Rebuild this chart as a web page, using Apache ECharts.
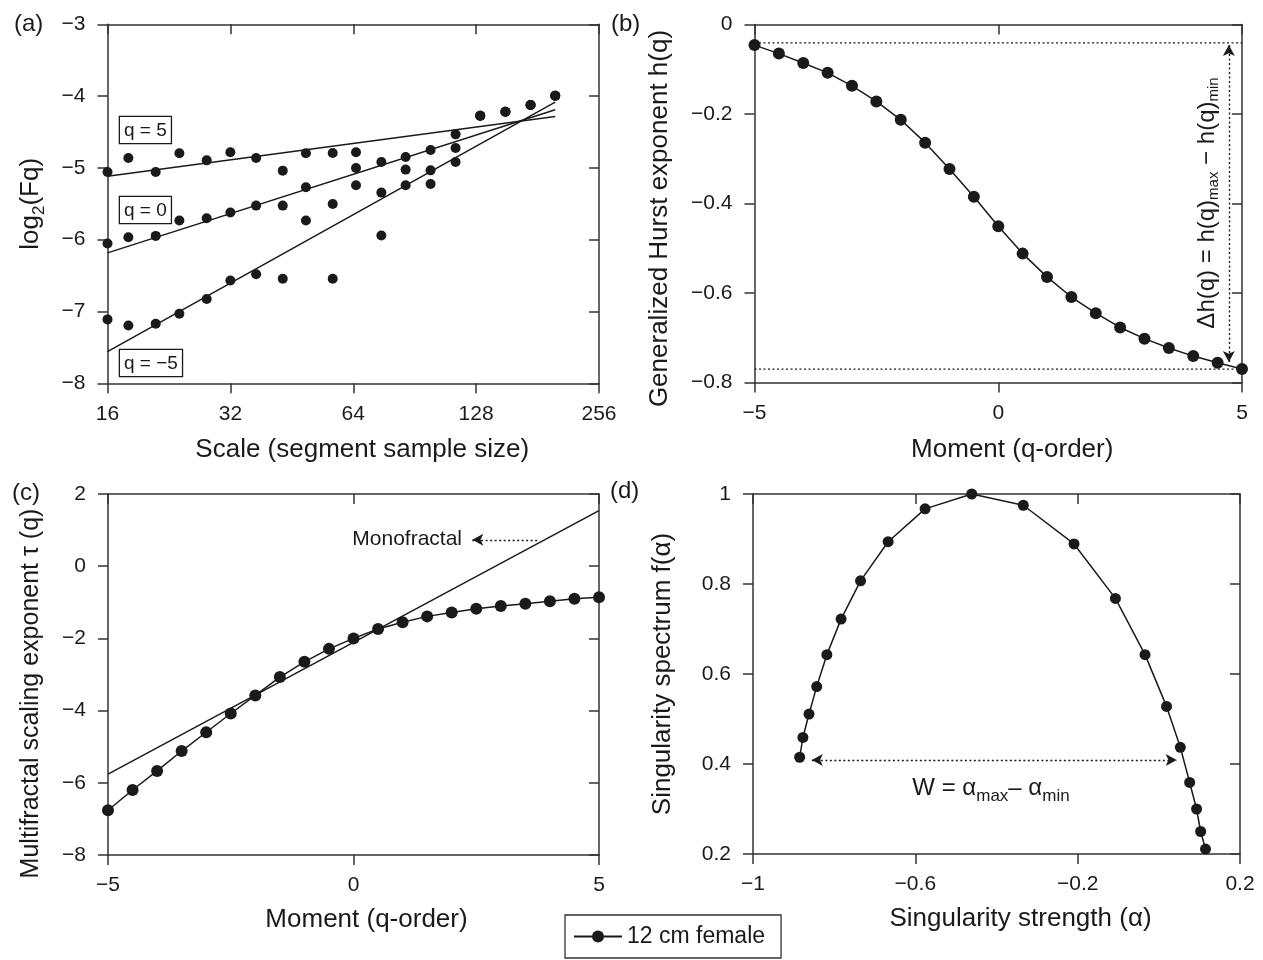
<!DOCTYPE html>
<html>
<head>
<meta charset="utf-8">
<script src="https://cdn.jsdelivr.net/npm/echarts@6/dist/echarts.min.js"></script>
<style>
  html, body { margin: 0; padding: 0; background: #ffffff; }
  #chart { width: 1263px; height: 960px; }
</style>
</head>
<body>
<div id="chart"></div>
<script>
// ---------- (a) log2 fluctuation function against segment scale ----------
const scaleSizes = [16, 18, 21, 24, 28, 32, 37, 43, 49, 57, 65, 75, 86, 99, 114, 131, 151, 174, 200];
const log2FqPos5 = [-5.057, -4.862, -5.057, -4.797, -4.895, -4.783, -4.862, -5.038, -4.797, -4.793,
                    -4.783, -4.918, -4.848, -4.751, -4.533, -4.273, -4.218, -4.125, -3.995];
const log2Fq0    = [-6.053, -5.965, -5.947, -5.733, -5.701, -5.622, -5.525, -5.525, -5.270, -5.502,
                    -5.001, -5.344, -5.024, -5.034, -4.723, -4.273, -4.218, -4.125, -3.995];
const log2FqNeg5 = [-7.110, -7.194, -7.170, -7.031, -6.827, -6.568, -6.480, -6.545, -5.733, -6.545,
                    -5.242, -5.942, -5.242, -5.224, -4.918, -4.273, -4.218, -4.125, -3.995];
const fitScaleEnds = [16, 200];
const fitPos5 = [-5.117, -4.283];
const fit0 = [-6.183, -4.190];
const fitNeg5 = [-7.560, -4.083];
const scaleTicks = [16, 32, 64, 128, 256];
const log2FqTicks = [-8, -7, -6, -5, -4, -3];

// ---------- (b) generalized Hurst exponent ----------
const qOrders = [-5, -4.5, -4, -3.5, -3, -2.5, -2, -1.5, -1, -0.5, 0, 0.5, 1, 1.5, 2, 2.5, 3, 3.5, 4, 4.5, 5];
const hurstH = [-0.046, -0.065, -0.086, -0.108, -0.137, -0.172, -0.213, -0.264, -0.323, -0.385, -0.451,
                -0.512, -0.564, -0.609, -0.645, -0.677, -0.702, -0.723, -0.741, -0.756, -0.770];
const hGuides = [-0.041, -0.770];
const hArrowQ = 4.73;
const hArrowSpan = [-0.046, -0.754];
const qTicks = [-5, 0, 5];
const hTicks = [-0.8, -0.6, -0.4, -0.2, 0];

// ---------- (c) multifractal scaling exponent ----------
const tauQ = [-6.76, -6.20, -5.67, -5.12, -4.60, -4.08, -3.58, -3.07, -2.65, -2.29, -2.00,
              -1.74, -1.55, -1.39, -1.28, -1.18, -1.10, -1.04, -0.97, -0.90, -0.86];
const monoQ = [-5, 5];
const monoTau = [-5.76, 1.54];
const monoArrowQ = [3.74, 2.42];
const monoArrowTau = 0.73;
const tauTicks = [-8, -6, -4, -2, 0, 2];

// ---------- (d) singularity spectrum ----------
const alphaVals = [-0.885, -0.877, -0.862, -0.843, -0.818, -0.783, -0.735, -0.667, -0.576, -0.461,
                   -0.334, -0.209, -0.107, -0.034, 0.019, 0.053, 0.076, 0.093, 0.103, 0.115];
const fAlpha = [0.415, 0.459, 0.511, 0.572, 0.643, 0.722, 0.807, 0.894, 0.967, 1.000,
                0.975, 0.889, 0.768, 0.643, 0.528, 0.437, 0.359, 0.300, 0.250, 0.211];
const wArrowAlpha = [-0.855, 0.044];
const wArrowF = 0.409;
const alphaTicks = [-1, -0.6, -0.2, 0.2];
const fTicks = [0.2, 0.4, 0.6, 0.8, 1];

const seriesName = '12 cm female';

// ---------- styling ----------
const FONT = '"Liberation Sans", Arial, Helvetica, sans-serif';
const INK = '#1a1a1a';
const FRAME = '#333333';
const DOTS = [2, 2.5];

function tickFmt(v) {
  return String(Math.round(v * 1000) / 1000).replace('-', '\u2212');
}
function zip(xs, ys) { return xs.map((x, i) => [x, ys[i]]); }

// Builds the labelled axis and its tick-only mirror on the opposite side of a grid.
function axisPair(dim, grid, scale, title) {
  const ticks = scale.ticks;
  const custom = scale.custom ? { customValues: ticks } : {};
  const base = {
    gridIndex: grid,
    type: scale.type || 'value',
    min: scale.type === 'log' ? ticks[0] : scale.min,
    max: scale.type === 'log' ? ticks[ticks.length - 1] : scale.max,
    splitLine: { show: false },
    axisLine: { show: true, onZero: false, lineStyle: { color: FRAME, width: 1.5 } }
  };
  if (scale.type === 'log') base.logBase = 2;
  else if (!scale.custom) base.interval = ticks[1] - ticks[0];
  const main = Object.assign({}, base, {
    position: dim === 'x' ? 'bottom' : 'left',
    axisTick: Object.assign({ show: true, inside: false, length: 10, lineStyle: { color: FRAME, width: 1.5 } }, custom),
    axisLabel: Object.assign({ show: true, margin: dim === 'x' ? 20 : 22, fontSize: 21, color: INK,
      fontFamily: FONT, formatter: tickFmt }, custom),
    name: title.text,
    nameLocation: 'middle',
    nameGap: title.gap,
    nameMoveOverlap: false,
    nameTextStyle: Object.assign({ fontSize: title.size || 26, color: INK, fontFamily: FONT, padding: title.pad || 0 },
      title.rich ? { rich: title.rich } : {})
  });
  const mirror = Object.assign({}, base, {
    position: dim === 'x' ? 'top' : 'right',
    axisTick: Object.assign({ show: true, inside: true, length: 10, lineStyle: { color: FRAME, width: 1.5 } }, custom),
    axisLabel: { show: false }
  });
  return [main, mirror];
}

const grids = [
  { left: 107.5, top: 24.3, width: 491.5, height: 359, outerBoundsMode: 'none' },
  { left: 754.5, top: 24.5, width: 487.5, height: 358, outerBoundsMode: 'none' },
  { left: 108, top: 494, width: 491, height: 361, outerBoundsMode: 'none' },
  { left: 753, top: 494, width: 487, height: 360, outerBoundsMode: 'none' }
];

const xAxes = [].concat(
  axisPair('x', 0, { type: 'log', ticks: scaleTicks }, { text: 'Scale (segment sample size)', gap: 54, pad: [0, 0, 0, 18] }),
  axisPair('x', 1, { min: -5, max: 5, ticks: qTicks }, { text: 'Moment (q-order)', gap: 54, pad: [0, 0, 0, 28] }),
  axisPair('x', 2, { min: -5, max: 5, ticks: qTicks }, { text: 'Moment (q-order)', gap: 52, pad: [0, 0, 0, 26] }),
  axisPair('x', 3, { min: -1, max: 0.2, ticks: alphaTicks, custom: true }, { text: 'Singularity strength (\u03b1)', gap: 52, pad: [0, 0, 0, 48] })
);

const yAxes = [].concat(
  axisPair('y', 0, { min: -8, max: -3, ticks: log2FqTicks }, {
    text: '{t|log}{s|2}{t|(Fq)}', gap: 60,
    rich: { t: { fontSize: 26, fontFamily: FONT, color: INK }, s: { fontSize: 17, fontFamily: FONT, color: INK, padding: [16, 0, 0, 0] } }
  }),
  axisPair('y', 1, { min: -0.8, max: 0, ticks: hTicks }, { text: 'Generalized Hurst exponent h(q)', gap: 82, pad: [0, 30, 0, 0] }),
  axisPair('y', 2, { min: -8, max: 2, ticks: tauTicks }, { text: 'Multifractal scaling exponent \u03c4 (q)', gap: 64, size: 25, pad: [0, 38, 0, 0] }),
  axisPair('y', 3, { min: 0.2, max: 1, ticks: fTicks }, { text: 'Singularity spectrum f(\u03b1)', gap: 77 })
);

const dotMark = { color: INK, opacity: 1 };
const lineStyle = { color: INK, width: 1.5 };

function scatter(name, ys) {
  return { name, type: 'scatter', xAxisIndex: 0, yAxisIndex: 0, data: zip(scaleSizes, ys),
    symbol: 'circle', symbolSize: 10, itemStyle: dotMark, silent: true };
}
function plain(name, axis, data, style) {
  return { name, type: 'line', xAxisIndex: axis, yAxisIndex: axis, data, showSymbol: false, symbol: 'none',
    lineStyle: style || lineStyle, silent: true, clip: false };
}
function arrowMark(from, to, symbols) {
  return {
    silent: true, symbol: symbols, symbolSize: [9, 11], label: { show: false },
    lineStyle: { color: INK, width: 1.4, type: DOTS }, emphasis: { disabled: true },
    data: [[{ coord: from }, { coord: to }]]
  };
}
function connected(axis, data, extra) {
  return Object.assign({ name: seriesName, type: 'line', xAxisIndex: axis, yAxisIndex: axis, data,
    symbol: 'circle', symbolSize: 12, showSymbol: true, itemStyle: dotMark, lineStyle,
    clip: false, silent: true }, extra || {});
}

const series = [
  scatter('q = 5', log2FqPos5),
  scatter('q = 0', log2Fq0),
  scatter('q = \u22125', log2FqNeg5),
  plain('fit q = 5', 0, zip(fitScaleEnds, fitPos5)),
  plain('fit q = 0', 0, zip(fitScaleEnds, fit0)),
  plain('fit q = \u22125', 0, zip(fitScaleEnds, fitNeg5)),

  plain('h max', 2, zip(qTicks.filter((q, i) => i !== 1), [hGuides[0], hGuides[0]]), { color: INK, width: 1.4, type: DOTS }),
  plain('h min', 2, zip(qTicks.filter((q, i) => i !== 1), [hGuides[1], hGuides[1]]), { color: INK, width: 1.4, type: DOTS }),
  connected(2, zip(qOrders, hurstH), {
    markLine: arrowMark([hArrowQ, hArrowSpan[0]], [hArrowQ, hArrowSpan[1]], ['arrow', 'arrow'])
  }),

  plain('Monofractal', 4, zip(monoQ, monoTau), Object.assign({}, lineStyle)),
  connected(4, zip(qOrders, tauQ), {
    markLine: arrowMark([monoArrowQ[0], monoArrowTau], [monoArrowQ[1], monoArrowTau], ['none', 'arrow'])
  }),

  connected(6, zip(alphaVals, fAlpha), {
    symbolSize: 11,
    markLine: arrowMark([wArrowAlpha[0], wArrowF], [wArrowAlpha[1], wArrowF], ['arrow', 'arrow'])
  })
];

function note(x, y, text, extra) {
  return { type: 'text', x, y, silent: true,
    style: Object.assign({ text, font: '21px ' + FONT, fill: INK }, extra || {}) };
}
function boxed(x, y, text) {
  return note(x, y, text, { font: '19px ' + FONT, padding: [4, 4, 3, 4], borderColor: INK, borderWidth: 1.3,
    backgroundColor: '#ffffff', verticalAlign: 'top', align: 'left' });
}
const subRich = (main, sub, drop) => ({
  t: { fontSize: main, fontFamily: FONT, fill: INK, color: INK },
  s: { fontSize: sub, fontFamily: FONT, fill: INK, color: INK, padding: [drop, 0, 0, 0] }
});

const graphic = [
  note(14, 24, '(a)', { font: '24px ' + FONT, verticalAlign: 'middle' }),
  note(611, 24, '(b)', { font: '24px ' + FONT, verticalAlign: 'middle' }),
  note(12, 493, '(c)', { font: '24px ' + FONT, verticalAlign: 'middle' }),
  note(610, 491, '(d)', { font: '24px ' + FONT, verticalAlign: 'middle' }),
  boxed(120, 117, 'q = 5'),
  boxed(120, 197, 'q = 0'),
  boxed(120, 350, 'q = \u22125'),
  note(462, 539, 'Monofractal', { font: '21px ' + FONT, align: 'right', verticalAlign: 'middle' }),
  {
    type: 'text', x: 1207, y: 203, rotation: Math.PI / 2, silent: true,
    style: { text: '{t|\u0394h(q) = h(q)}{s|max}{t| \u2212 h(q)}{s|min}', align: 'center', verticalAlign: 'middle',
      rich: subRich(24, 15, 14), fill: INK }
  },
  {
    type: 'text', x: 991, y: 788, silent: true,
    style: { text: '{t|W = \u03b1}{s|max}{t|\u2013 \u03b1}{s|min}', align: 'center', verticalAlign: 'middle',
      rich: subRich(24, 17, 16), fill: INK }
  }
];

const chart = echarts.init(document.getElementById('chart'), null, { renderer: 'canvas' });
chart.setOption({
  animation: false,
  backgroundColor: '#ffffff',
  textStyle: { fontFamily: FONT, color: INK },
  grid: grids,
  xAxis: xAxes,
  yAxis: yAxes,
  legend: {
    data: [{ name: seriesName }],
    left: 565, top: 915,
    padding: [10, 16, 10, 8],
    borderColor: FRAME, borderWidth: 1.3,
    itemWidth: 48, itemHeight: 15,
    textStyle: { fontSize: 23, color: INK, fontFamily: FONT },
    selectedMode: false
  },
  series,
  graphic
});
</script>
</body>
</html>
